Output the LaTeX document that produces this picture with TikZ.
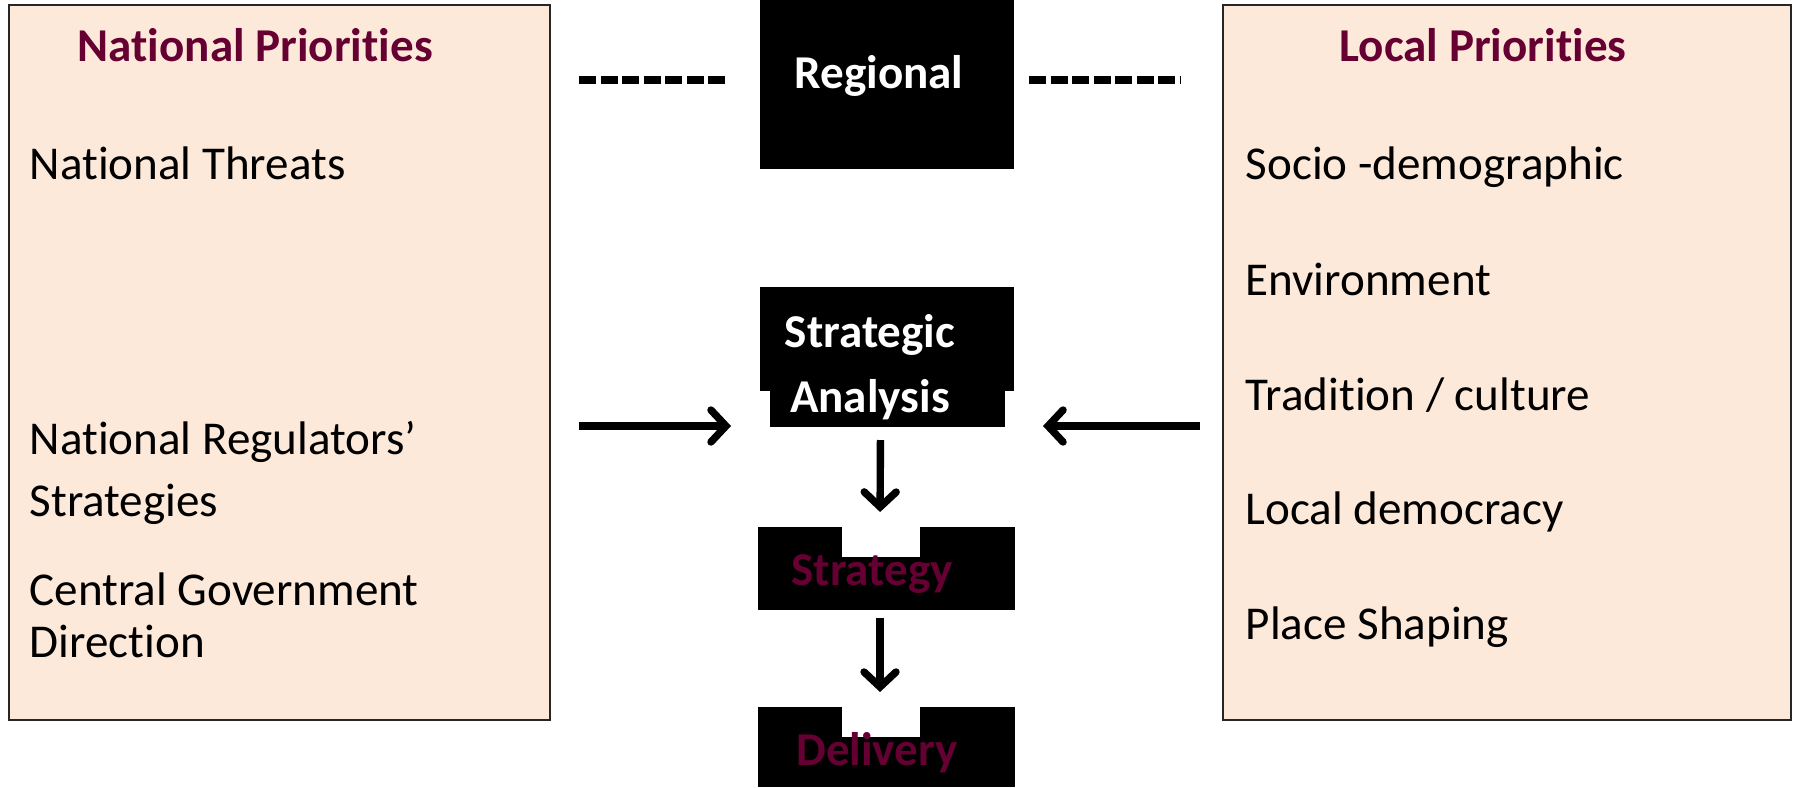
\documentclass[tikz,border=0pt]{standalone}
\usepackage{fontspec}
\setmainfont[Ligatures=NoCommon]{Carlito}
\usetikzlibrary{arrows.meta}
\definecolor{peach}{RGB}{253,233,217}
\definecolor{plum}{RGB}{102,0,51}
\tikzset{
  prio/.style={draw=black!85, line width=0.6pt, fill=peach, inner sep=0pt, outer sep=0pt},
  blk/.style={fill=black, inner sep=0pt, outer sep=0pt},
  item/.style={anchor=base west, inner sep=0pt, font=\fontsize{13.4}{16}\selectfont},
  head/.style={item, font=\fontsize{13.4}{16}\selectfont\bfseries, text=plum},
  wlabel/.style={anchor=base, inner sep=0pt, font=\fontsize{13.4}{16}\selectfont\bfseries, text=white},
  plabel/.style={wlabel, text=plum},
  dashline/.style={line width=2pt, dash pattern=on 0.17cm off 0.045cm},
  flow/.style={line width=2.1pt, -{Straight Barb[length=0.15cm,width=0.32cm,line cap=round]}}
}
\begin{document}
\begin{tikzpicture}
			\useasboundingbox (0,0) rectangle (17.99,7.87);
			
			%%%%% priority boxes %%%%%
			\node[prio, minimum width=5.41cm, minimum height=7.15cm] (natbox) at (2.795,4.245) {};
			\node[prio, minimum width=5.68cm, minimum height=7.15cm] (locbox) at (15.07,4.245) {};
			
			\node[head] (nathead) at (0.77,7.26) {National Priorities};
			\node[item] (threats) at (0.29,6.08) {National Threats};
			\node[item] (regs1) at (0.29,3.33) {National Regulators’};
			\node[item] (regs2) at (0.29,2.71) {Strategies};
			\node[item] (gov1) at (0.29,1.82) {Central Government};
			\node[item] (gov2) at (0.29,1.30) {Direction};
			
			\node[head] (lochead) at (13.39,7.26) {Local Priorities};
			\node[item] (socio) at (12.45,6.08) {Socio -demographic};
			\node[item] (env) at (12.45,4.92) {Environment};
			\node[item] (trad) at (12.45,3.77) {Tradition / culture};
			\node[item] (demo) at (12.45,2.63) {Local democracy};
			\node[item] (place) at (12.45,1.48) {Place Shaping};
			
			%%%%% middle column %%%%%
			\node[blk, minimum width=2.54cm, minimum height=1.69cm] (regional) at (8.87,7.025) {};
			\node[wlabel] (reglabel) at (8.79,6.99) {Regional};
			
			\node[blk, minimum width=2.54cm, minimum height=1.04cm] (analtop) at (8.87,4.48) {};
			\node[blk, minimum width=2.35cm, minimum height=0.38cm] (anal) at (8.875,3.79) {};
			\node[wlabel] (anal1) at (8.70,4.40) {Strategic};
			\node[wlabel] (anal2) at (8.70,3.75) {Analysis};
			
			\node[blk, minimum width=2.57cm, minimum height=0.83cm] (strat) at (8.865,2.185) {};
			\fill[white] (8.42,2.30) rectangle (9.20,2.61);
			\node[plabel] (stratlabel) at (8.72,2.02) {Strategy};
			
			\node[blk, minimum width=2.57cm, minimum height=0.80cm] (deliv) at (8.865,0.40) {};
			\fill[white] (8.42,0.50) rectangle (9.20,0.81);
			\node[plabel] (delivlabel) at (8.77,0.22) {Delivery};
			
			%%%%% links %%%%%
			\coordinate (nl) at (5.79,7.07);
			\coordinate (nr) at (7.27,7.07);
			\coordinate (ll) at (10.29,7.07);
			\coordinate (lr) at (11.80,7.07);
			\draw[dashline] (nl) -- (nr);
			\draw[dashline] (ll) -- (lr);
			
			\coordinate (natout) at (5.79,3.61);
			\coordinate (natin) at (7.31,3.61);
			\coordinate (locout) at (12.00,3.61);
			\coordinate (locin) at (10.43,3.61);
			\draw[flow] (natout) -- (natin);
			\draw[flow] (locout) -- (locin);
			
			\draw[flow, shorten <=0.13cm, shorten >=0.15cm] ([xshift=-0.07cm]anal.south) -- ([xshift=-0.065cm]strat.north);
			\draw[flow, shorten <=0.08cm, shorten >=0.15cm] ([xshift=-0.065cm]strat.south) -- ([xshift=-0.065cm]deliv.north);
		\end{tikzpicture}
\end{document}
